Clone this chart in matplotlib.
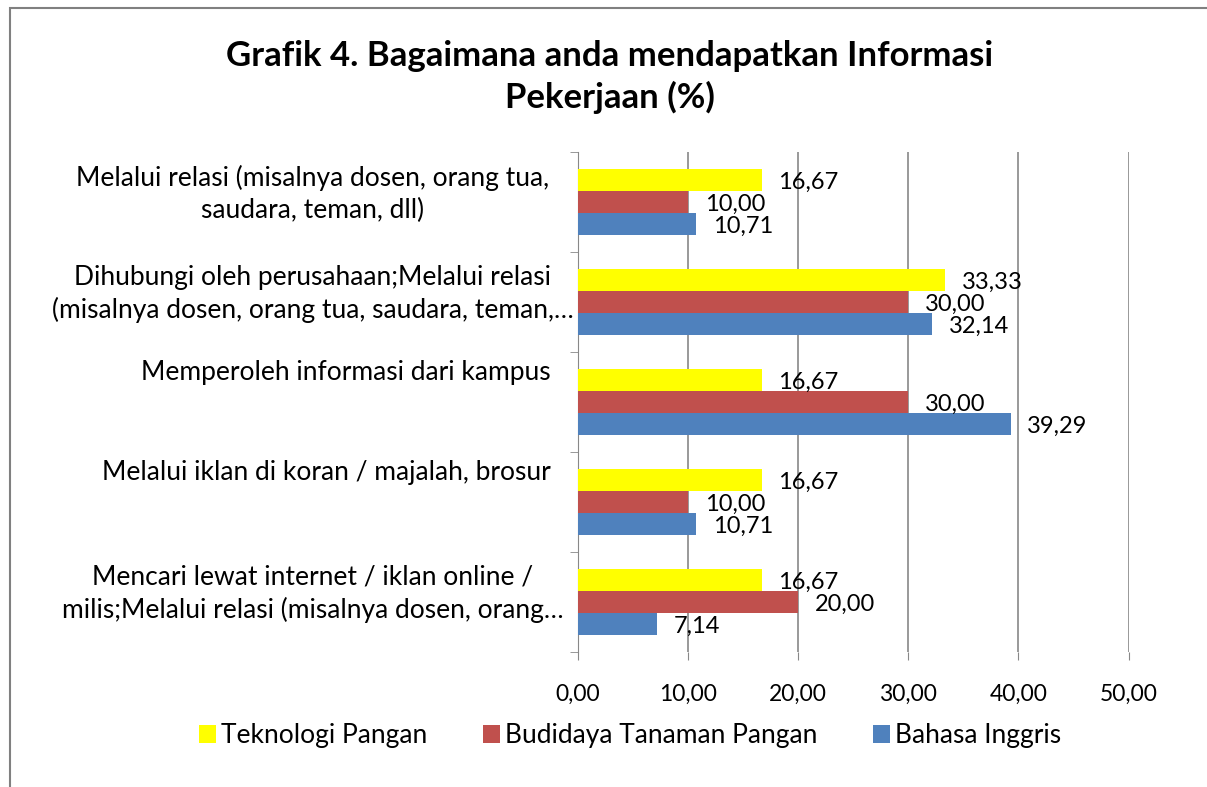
import numpy as np
import matplotlib.pyplot as plt
from matplotlib.patches import Rectangle
from matplotlib.transforms import ScaledTranslation

plt.rcParams['font.family'] = ['Lato', 'DejaVu Sans']

categories = [
    'Mencari lewat internet / iklan online /\nmilis;Melalui relasi (misalnya dosen, orang…',
    'Melalui iklan di koran / majalah, brosur',
    'Memperoleh informasi dari kampus',
    'Dihubungi oleh perusahaan;Melalui relasi\n(misalnya dosen, orang tua, saudara, teman,…',
    'Melalui relasi (misalnya dosen, orang tua,\nsaudara, teman, dll)',
]
series = ['Teknologi Pangan', 'Budidaya Tanaman Pangan', 'Bahasa Inggris']
teknologi = [16.67, 16.67, 16.67, 33.33, 16.67]
budidaya = [20.00, 10.00, 30.00, 30.00, 10.00]
bahasa = [7.14, 10.71, 39.29, 32.14, 10.71]
colors = ['#FFFF00', '#C0504D', '#4F81BD']

fig = plt.figure(figsize=(12.07, 7.87), dpi=100)
ax = fig.add_axes([0.479, 0.1715, 0.456, 0.6355])

y = np.arange(len(categories))
h = 0.22
offsets = [h, 0, -h]
for vals, off, c, name in zip([teknologi, budidaya, bahasa], offsets, colors, series):
    bars = ax.barh(y + off, vals, height=h, color=c, label=name, zorder=3)
    for b, v in zip(bars, vals):
        ax.text(v + 1.5, b.get_y() + h / 2 - 0.02, f'{v:.2f}'.replace('.', ','),
                va='center', ha='left', fontsize=17, zorder=4)

ax.set_xlim(0, 50)
ax.set_ylim(-0.5, len(categories) - 0.5)
ax.set_xticks(np.arange(0, 51, 10))
ax.set_xticklabels([f'{t:.2f}'.replace('.', ',') for t in np.arange(0, 51, 10)], fontsize=16.5)
ax.set_yticks(y)
ax.set_yticklabels(categories, fontsize=19, ha='center', linespacing=1.33)
ax.tick_params(axis='y', length=0, pad=191)
# Excel-style placement: single-line labels right-aligned and raised, wrapped ones centred
for lab in ax.get_yticklabels():
    if '\n' in lab.get_text():
        lab.set_transform(lab.get_transform() + ScaledTranslation(0, 0.14, fig.dpi_scale_trans))
    else:
        lab.set_ha('right')
        lab.set_transform(lab.get_transform() + ScaledTranslation(2.38, 0.32, fig.dpi_scale_trans))
ax.set_yticks(np.arange(-0.5, len(categories), 1), minor=True)
ax.tick_params(axis='y', which='minor', length=6, color='#888888')
ax.tick_params(axis='x', length=6, color='#888888', pad=17)
ax.grid(axis='x', color='#888888', linewidth=1.2, zorder=0)
for s in ['top', 'right']:
    ax.spines[s].set_visible(False)
ax.spines['bottom'].set_visible(False)
ax.spines['left'].set_color('#888888')

fig.text(0.505, 0.902, 'Grafik 4. Bagaimana anda mendapatkan Informasi\nPekerjaan (%)',
         ha='center', va='center', fontsize=25, fontweight='bold', linespacing=1.3)

ax.legend(loc='center', bbox_to_anchor=(0.522, 0.065), bbox_transform=fig.transFigure,
          ncol=3, frameon=False, fontsize=19, handlelength=0.65, handleheight=0.65,
          columnspacing=2.1, handletextpad=0.2)

fig.patches.append(Rectangle((10 / 1207, -0.1), 2, 1.1 - 8 / 787, transform=fig.transFigure,
                             fill=False, edgecolor='#808080', linewidth=1.5))

fig.savefig('out.png', dpi=100)
